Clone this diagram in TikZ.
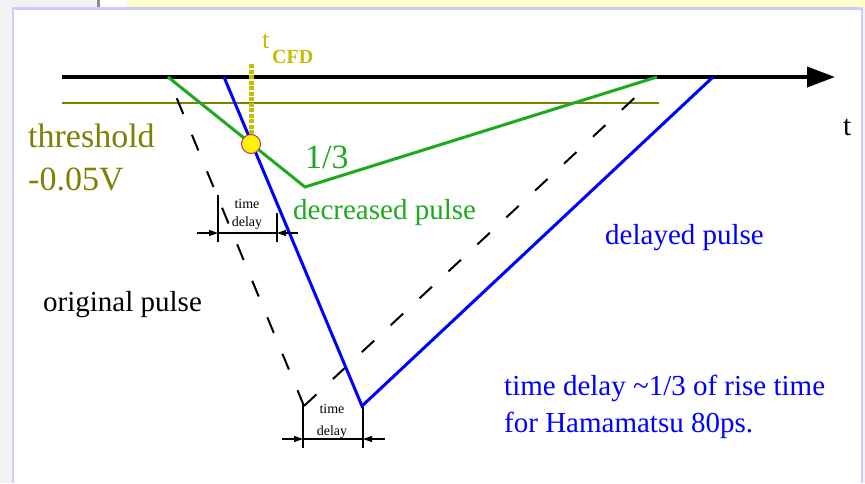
\documentclass[tikz,border=0pt]{standalone}
\usepackage{fontspec}
\setmainfont{Liberation Serif}
\usetikzlibrary{arrows.meta,positioning}
\definecolor{frameblue}{RGB}{204,204,255}
\definecolor{panelgray}{RGB}{242,242,242}
\definecolor{noteyellow}{RGB}{255,255,204}
\definecolor{thrcolor}{RGB}{128,128,0}
\definecolor{cfdcolor}{RGB}{195,190,0}
\definecolor{pulsegreen}{RGB}{30,170,30}
\definecolor{pulseblue}{RGB}{0,0,255}
\definecolor{dotrim}{RGB}{170,60,110}

\begin{document}
\begin{tikzpicture}[x=1pt, y=-1pt,
  big/.style={font=\fontsize{29}{33}\selectfont, inner sep=0pt, anchor=base west},
  huge/.style={font=\fontsize{34}{38}\selectfont, inner sep=0pt, anchor=base west},
  tiny/.style={font=\fontsize{14}{16}\selectfont, inner sep=0pt, anchor=base},
  pulse/.style={line width=3pt},
  dim/.style={line width=1.2pt},
  dimarrow/.style={line width=1.2pt, -{Triangle[length=9pt,width=6pt]}}
]
\useasboundingbox (0,0) rectangle (865,483);
% window around the slide
\fill[panelgray] (0,0) rectangle (865,483);
\fill[white] (99,0) rectangle (865,8);
\fill[noteyellow] (127,0) rectangle (865,8);
\fill[black!45] (97,0) rectangle (99.5,7);
\fill[white] (12,8) rectangle (862,483);
\draw[frameblue, line width=2.5pt] (13,483) |- (862,8.5) -- (862,483);

% pulse corners
\coordinate (start) at (168,77);
\coordinate (gvtx) at (305,187);
\coordinate (gend) at (657,77);
\coordinate (ovtx) at (304,406);
\coordinate (bstart) at (224,77);
\coordinate (bvtx) at (362,406);
\coordinate (bend) at (713,77);
\coordinate (cfdpt) at (251,144);
\coordinate (cfdtop) at (251,64);

% threshold and time axis
\coordinate (thrl) at (62,103);
\coordinate (thrr) at (659,103);
\coordinate (axl) at (62,77);
\coordinate (axr) at (835,77);
\draw[thrcolor, line width=1.3pt] (thrl) -- (thrr);
\draw[line width=4pt, -{Triangle[length=28pt,width=20pt]}] (axl) -- (axr);

% pulses
\draw[line width=2pt, dash pattern=on 17pt off 22.5pt] (ovtx) -- (start);
\draw[line width=2pt, dash pattern=on 17pt off 22.5pt, shorten >=24pt] (ovtx) -- (gend);
\draw[pulse, pulsegreen] (start) -- (gvtx) -- (gend);
\draw[pulse, pulseblue] (bstart) -- (bvtx) -- (bend);

% CFD point
\draw[cfdcolor, line width=5pt, dash pattern=on 4pt off 1.5pt] (cfdtop) -- (cfdpt);
\node[circle, fill=yellow, draw=dotrim, line width=1pt, minimum size=19pt, inner sep=0pt] (cfd) at (cfdpt) {};
\node[cfdcolor, font=\fontsize{26}{28}\selectfont, inner sep=0pt, anchor=base west] (tcfd) at (262,48) {t};
\node[cfdcolor, font=\fontsize{20}{22}\selectfont\bfseries, inner sep=0pt, anchor=base west] (cfdsub) at (272,63) {CFD};

% time delay near the top
\coordinate (ua) at (218,195);
\coordinate (ub) at (218,242);
\coordinate (uc) at (277,213);
\coordinate (ud) at (277,242);
\coordinate (ul) at (197,233);
\coordinate (um) at (218,233);
\coordinate (un) at (277,233);
\coordinate (ur) at (298,233);
\draw[dim] (ua) -- (ub);
\draw[dim] (uc) -- (ud);
\draw[dim] (um) -- (un);
\draw[dimarrow] (ul) -- (um);
\draw[dimarrow] (ur) -- (un);
\node[tiny] (utime) at (247,208) {time};
\node[tiny] (udelay) at (247,226) {delay};

% time delay at the bottom
\coordinate (la) at (303,403);
\coordinate (lb) at (303,448);
\coordinate (lc) at (363,407);
\coordinate (ld) at (363,448);
\coordinate (ll) at (282,439);
\coordinate (lm) at (303,439);
\coordinate (ln) at (363,439);
\coordinate (lr) at (385,439);
\draw[dim] (la) -- (lb);
\draw[dim] (lc) -- (ld);
\draw[dim] (lm) -- (ln);
\draw[dimarrow] (ll) -- (lm);
\draw[dimarrow] (lr) -- (ln);
\node[tiny] (ltime) at (332,413) {time};
\node[tiny] (ldelay) at (332,435) {delay};

% labels
\node[huge, thrcolor] (thr) at (28,147) {threshold};
\node[huge, thrcolor] (thrval) at (28,190) {-0.05V};
\node[huge, pulsegreen] (third) at (305,168) {1/3};
\node[big, pulsegreen] (decr) at (293,219) {decreased pulse};
\node[big, pulseblue] (dela) at (605,244) {delayed pulse};
\node[big] (orig) at (43,311) {original pulse};
\node[big] (taxis) at (843,135) {t};
\node[big, pulseblue] (note1) at (504,395) {time delay \textasciitilde1/3 of rise time};
\node[big, pulseblue] (note2) at (504,432) {for Hamamatsu 80ps.};
\end{tikzpicture}
\end{document}
